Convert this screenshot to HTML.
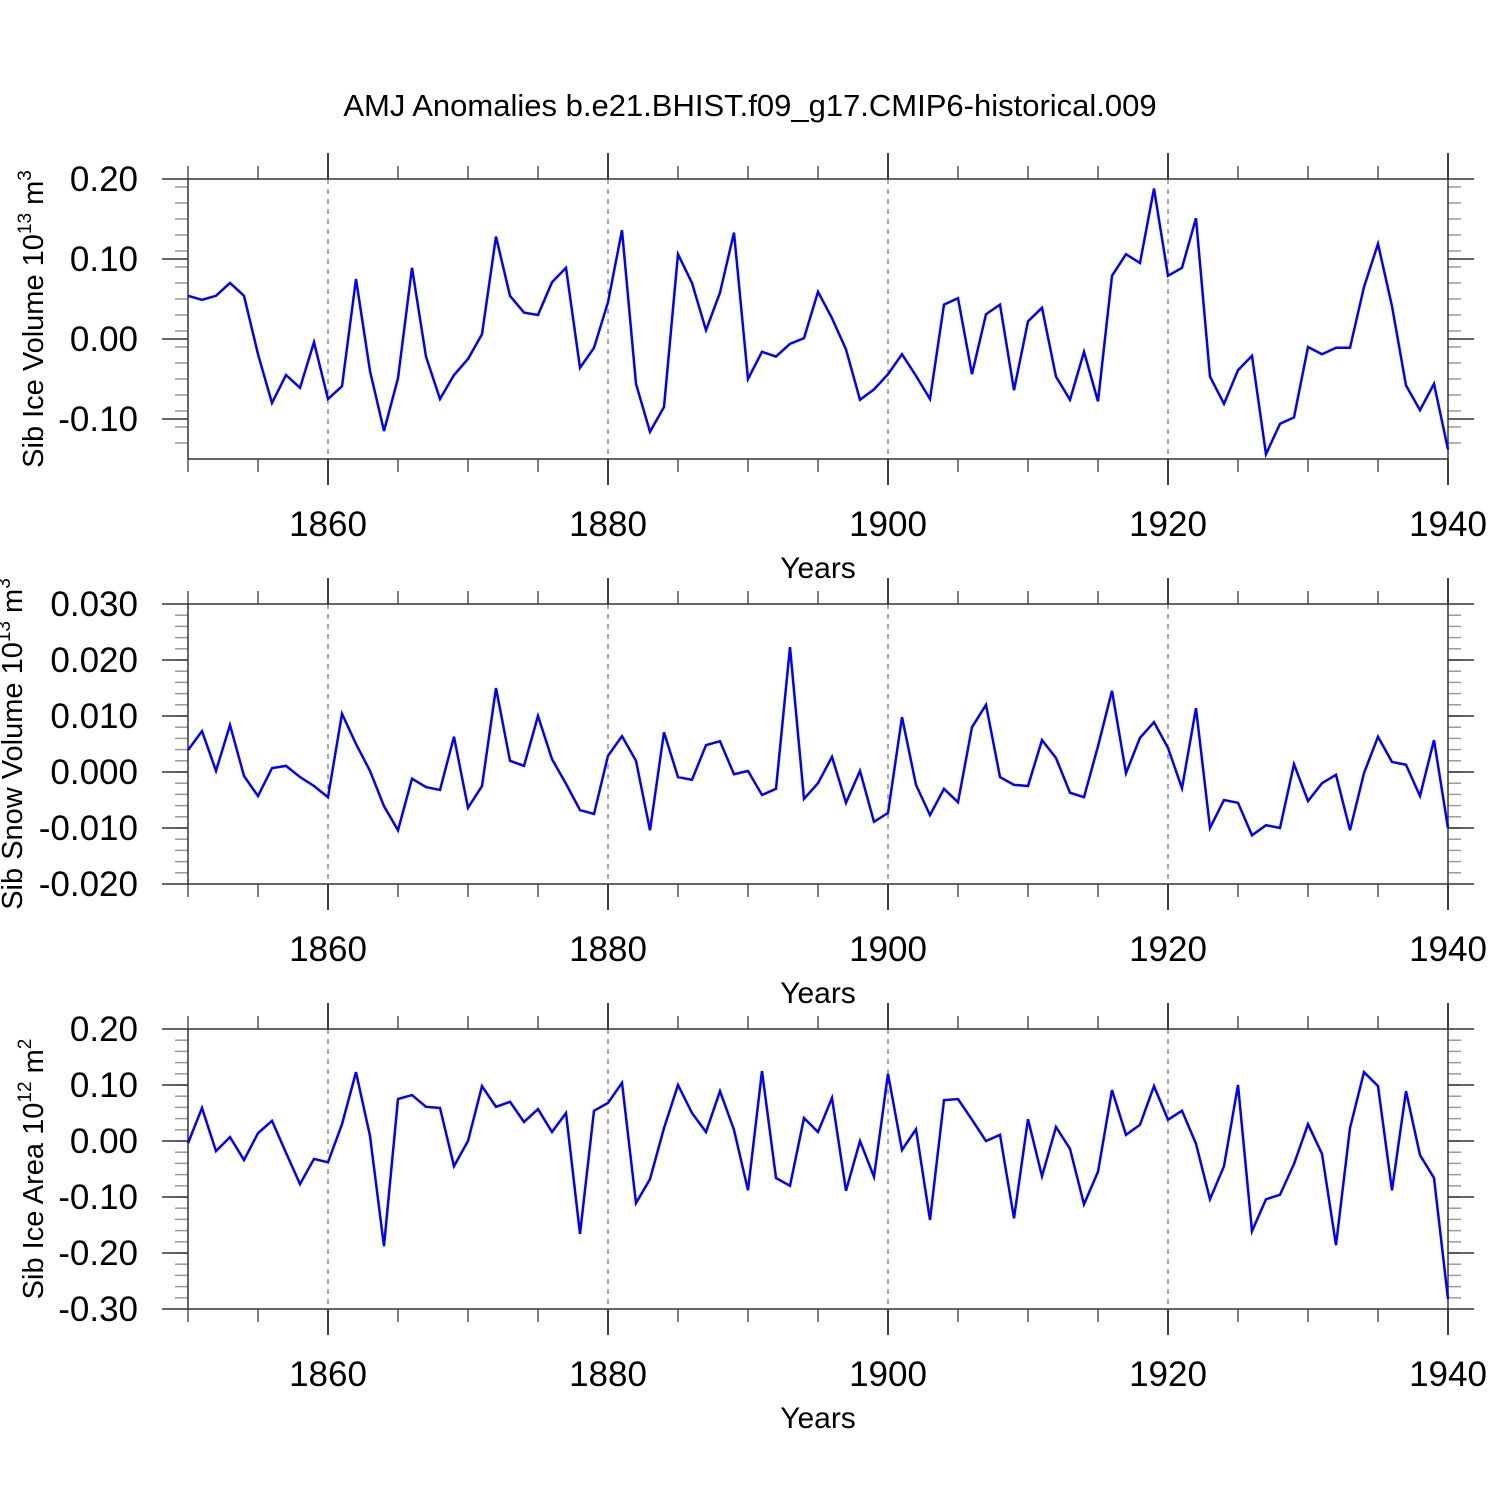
<!DOCTYPE html>
<html><head><meta charset="utf-8"><style>
body{margin:0;background:#fff}
svg{display:block;font-family:"Liberation Sans",sans-serif}
</style></head><body>
<svg id="c" width="1500" height="1500" xmlns="http://www.w3.org/2000/svg">
<text x="750" y="116" font-size="31" text-anchor="middle">AMJ Anomalies b.e21.BHIST.f09_g17.CMIP6-historical.009</text>
</svg>
<script>
const years=[];for(let y=1850;y<=1940;y++)years.push(y);
const xTicks=[1860,1880,1900,1920,1940];
const iceVolume=[0.054,0.049,0.054,0.070,0.054,-0.019,-0.080,-0.045,-0.061,-0.004,-0.075,-0.059,0.075,-0.040,-0.115,-0.049,0.089,-0.022,-0.075,-0.045,-0.025,0.006,0.128,0.054,0.033,0.030,0.071,0.089,-0.036,-0.011,0.046,0.136,-0.056,-0.116,-0.085,0.106,0.070,0.011,0.058,0.133,-0.050,-0.016,-0.022,-0.006,0.001,0.059,0.026,-0.013,-0.076,-0.063,-0.044,-0.019,-0.046,-0.075,0.043,0.051,-0.044,0.031,0.043,-0.064,0.022,0.039,-0.047,-0.076,-0.016,-0.078,0.079,0.106,0.095,0.188,0.079,0.089,0.151,-0.047,-0.081,-0.039,-0.021,-0.144,-0.106,-0.098,-0.010,-0.019,-0.011,-0.011,0.065,0.119,0.041,-0.058,-0.089,-0.056,-0.138];
const snowVolume=[0.0039,0.0073,0.0002,0.0084,-0.0007,-0.0043,0.0007,0.0011,-0.0009,-0.0025,-0.0045,0.0104,0.0050,0.0002,-0.0061,-0.0104,-0.0012,-0.0027,-0.0032,0.0063,-0.0064,-0.0025,0.0150,0.0020,0.0011,0.0100,0.0023,-0.0021,-0.0068,-0.0075,0.0029,0.0064,0.0020,-0.0104,0.0071,-0.0009,-0.0014,0.0048,0.0055,-0.0004,0.0002,-0.0041,-0.0030,0.0223,-0.0048,-0.0020,0.0027,-0.0055,0.0002,-0.0089,-0.0073,0.0098,-0.0023,-0.0077,-0.0030,-0.0054,0.0080,0.0120,-0.0009,-0.0023,-0.0025,0.0057,0.0025,-0.0037,-0.0045,0.0046,0.0145,-0.0002,0.0061,0.0089,0.0043,-0.0029,0.0114,-0.0100,-0.0050,-0.0055,-0.0113,-0.0095,-0.0100,0.0014,-0.0052,-0.0020,-0.0005,-0.0104,-0.0002,0.0063,0.0018,0.0013,-0.0043,0.0057,-0.0100];
const iceArea=[-0.004,0.059,-0.018,0.007,-0.034,0.014,0.036,-0.021,-0.077,-0.032,-0.038,0.030,0.123,0.009,-0.188,0.075,0.082,0.061,0.059,-0.045,0.000,0.098,0.061,0.070,0.034,0.057,0.016,0.050,-0.166,0.054,0.068,0.104,-0.111,-0.068,0.023,0.100,0.050,0.016,0.089,0.020,-0.088,0.125,-0.066,-0.080,0.041,0.016,0.077,-0.089,0.000,-0.064,0.120,-0.016,0.021,-0.141,0.073,0.075,0.038,0.000,0.011,-0.138,0.039,-0.063,0.025,-0.014,-0.113,-0.055,0.091,0.011,0.029,0.098,0.038,0.054,-0.005,-0.104,-0.045,0.100,-0.161,-0.104,-0.096,-0.041,0.030,-0.023,-0.186,0.023,0.123,0.098,-0.088,0.089,-0.025,-0.066,-0.282];
const iceVolTicks=[0.20,0.10,0.00,-0.10];
const snowTicks=[0.030,0.020,0.010,0.000,-0.010,-0.020];
const areaTicks=[0.20,0.10,0.00,-0.10,-0.20,-0.30];

const svg=document.getElementById('c');const NS='http://www.w3.org/2000/svg';
function mk(t,a,p){const e=document.createElementNS(NS,t);for(const k in a)e.setAttribute(k,a[k]);(p||svg).appendChild(e);return e;}
const X0=188,X1=1448;
const xs=y=>X0+(y-1850)*(X1-X0)/90;
const panels=[
 {top:179,ymin:-0.15,ymax:0.20,data:iceVolume,ticks:iceVolTicks,minor:0.02,dec:2,name:'ice-volume',tx:43,title:['Sib Ice Volume 10','13',' m','3']},
 {top:604,ymin:-0.020,ymax:0.030,data:snowVolume,ticks:snowTicks,minor:0.002,dec:3,name:'snow-volume',tx:22,title:['Sib Snow Volume 10','13',' m','3']},
 {top:1029,ymin:-0.30,ymax:0.20,data:iceArea,ticks:areaTicks,minor:0.02,dec:2,name:'ice-area',tx:43,title:['Sib Ice Area 10','12',' m','2']}
];
panels.forEach(p=>{
 const B=p.top+280;
 const ys=v=>B-(v-p.ymin)*280/(p.ymax-p.ymin);
 const g=mk('g',{});
 
 
 xTicks.forEach(t=>{if(t<1940){const l=mk('line',{x1:xs(t),x2:xs(t),y1:p.top,y2:B,stroke:'#555','stroke-width':1,'stroke-dasharray':'5,5'},g);
  }});
 const n=Math.round((p.ymax-p.ymin)/p.minor);
 for(let i=1;i<n;i++){const v=p.ymin+i*p.minor;const y=ys(v);
  mk('line',{x1:X0-13,x2:X0,y1:y,y2:y,stroke:'#999','stroke-width':1.5},g);
  mk('line',{x1:X1,x2:X1+13,y1:y,y2:y,stroke:'#999','stroke-width':1.5},g);}
 for(let yr=1850;yr<=1940;yr+=5){if(yr%20===0)continue;const x=xs(yr);
  mk('line',{x1:x,x2:x,y1:p.top-13,y2:p.top,stroke:'#555','stroke-width':1.5},g);
  mk('line',{x1:x,x2:x,y1:B,y2:B+13,stroke:'#555','stroke-width':1.5},g);}
 xTicks.forEach(t=>{const x=xs(t);
  mk('line',{x1:x,x2:x,y1:p.top-26,y2:p.top,stroke:'#000','stroke-width':1.5},g);
  mk('line',{x1:x,x2:x,y1:B,y2:B+26,stroke:'#000','stroke-width':1.5},g);
  const tx=mk('text',{x:x,y:B+77,'font-size':35,'text-anchor':'middle'},g);tx.textContent=t;
  });
 p.ticks.forEach(v=>{const y=ys(v);
  mk('line',{x1:X0-26,x2:X0,y1:y,y2:y,stroke:'#333','stroke-width':1.5},g);
  mk('line',{x1:X1,x2:X1+26,y1:y,y2:y,stroke:'#333','stroke-width':1.5},g);
  const tx=mk('text',{x:138,y:y+12,'font-size':35,'text-anchor':'end'},g);tx.textContent=v.toFixed(p.dec);
  });
 const r=mk('rect',{x:X0,y:p.top,width:X1-X0,height:280,fill:'none',stroke:'#333','stroke-width':1.5},g);
 
 const pl=mk('polyline',{points:p.data.map((v,i)=>xs(years[i])+','+ys(v)).join(' '),fill:'none',stroke:'#0000ff','stroke-width':2.5,'stroke-linejoin':'miter'},g);
 
 const xt=mk('text',{x:818,y:B+119,'font-size':30,'text-anchor':'middle'},g);xt.textContent='Years';
 
 const cy=p.top+140;
 const yt=mk('text',{x:0,y:0,'font-size':29,'text-anchor':'middle',transform:`translate(${p.tx},${cy}) rotate(-90)`},g);
 
 const t=p.title;
 const a=mk('tspan',{},yt);a.textContent=t[0];
 const b=mk('tspan',{dy:-12,'font-size':19},yt);b.textContent=t[1];
 const c=mk('tspan',{dy:12},yt);c.textContent=t[2];
 const d=mk('tspan',{dy:-12,'font-size':19},yt);d.textContent=t[3];
});
</script>
</body></html>
